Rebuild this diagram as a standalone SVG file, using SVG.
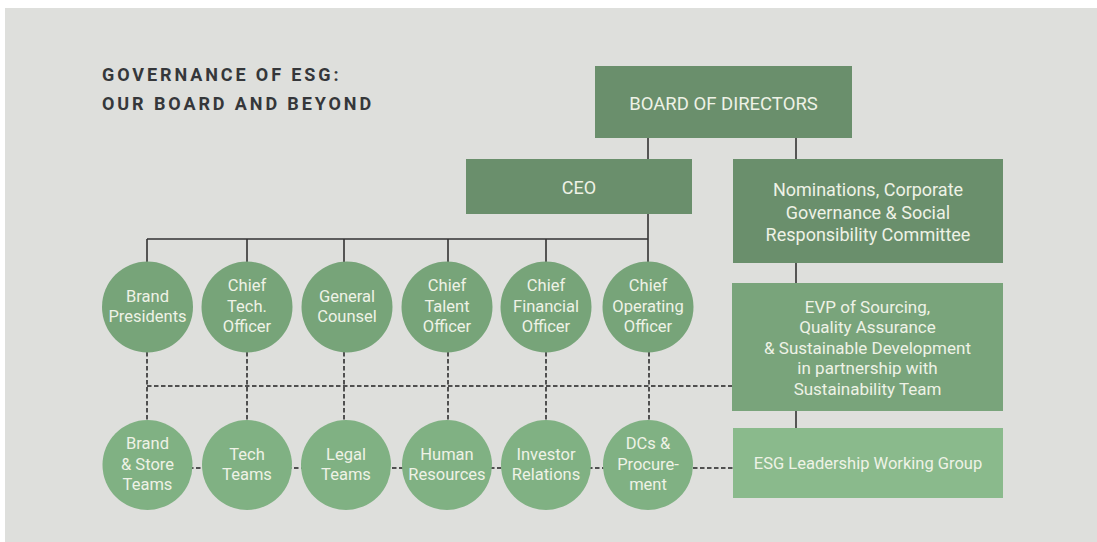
<svg xmlns="http://www.w3.org/2000/svg" width="1097" height="542" viewBox="0 0 1097 542">
<style>
.t{font-family:Roboto,"Liberation Sans",sans-serif;fill:#eef2e6;text-anchor:middle}
.title{font-family:Roboto,"Liberation Sans",sans-serif;font-weight:bold;font-size:18px;letter-spacing:2.9px;fill:#35373a}
.dk{fill:#6a8f6c}
.c1{fill:#77a479}
.c2{fill:#80b183}
.solid{stroke:#333;stroke-width:1.6;fill:none}
.dash{stroke:#222;stroke-width:1.5;fill:none;stroke-dasharray:4.5 2.5}
</style>
<rect x="0" y="0" width="1097" height="542" fill="#ffffff"/>
<rect x="5" y="8" width="1092" height="534" fill="#dedfdc"/>
<g id="title">
<text class="title" x="102" y="81">GOVERNANCE OF ESG:</text>
<text class="title" x="102" y="109.5">OUR BOARD AND BEYOND</text>
</g>
<g id="connectors">
<path class="solid" d="M648 138V159M796 138V159M648 214V239M147 239H648M147 239V262M247 239V262M344 239V262M448 239V262M546 239V262M648 239V262M796 263V283M796 411V428"/>
<path class="dash" d="M147 386H732M147 352V421M247 352V421M344 352V421M448 352V421M546 352V421M649 352V421M147 468H733"/>
</g>
<g id="board">
<rect class="dk" x="595" y="66" width="257" height="72"/>
<text class="t" x="723.5" y="110" font-size="18.5">BOARD OF DIRECTORS</text>
</g>
<g id="ceo">
<rect class="dk" x="466" y="159" width="226" height="55"/>
<text class="t" x="579" y="194" font-size="18">CEO</text>
</g>
<g id="nominations">
<rect class="dk" x="733" y="159" width="270" height="104"/>
<text class="t" x="868" y="196" font-size="18">Nominations, Corporate</text>
<text class="t" x="868" y="218.5" font-size="18">Governance &amp; Social</text>
<text class="t" x="868" y="241" font-size="18">Responsibility Committee</text>
</g>
<g id="evp">
<rect fill="#79a47b" x="732" y="283" width="271" height="128"/>
<text class="t" x="867.5" y="312.5" font-size="17">EVP of Sourcing,</text>
<text class="t" x="867.5" y="333" font-size="17">Quality Assurance</text>
<text class="t" x="867.5" y="353.5" font-size="17">&amp; Sustainable Development</text>
<text class="t" x="867.5" y="374" font-size="17">in partnership with</text>
<text class="t" x="867.5" y="394.5" font-size="17">Sustainability Team</text>
</g>
<g id="esg">
<rect fill="#8aba8c" x="733" y="428" width="270" height="70"/>
<text class="t" x="868" y="469" font-size="16.5">ESG Leadership Working Group</text>
</g>
<g id="brand-presidents">
<circle class="c1" cx="147.5" cy="307" r="45.5"/>
<text class="t" x="147.5" y="302" font-size="16.5">Brand</text>
<text class="t" x="147.5" y="322" font-size="16.5">Presidents</text>
</g>
<g id="cto">
<circle class="c1" cx="247" cy="307" r="45.5"/>
<text class="t" x="247" y="291" font-size="16.5">Chief</text>
<text class="t" x="247" y="311.5" font-size="16.5">Tech.</text>
<text class="t" x="247" y="331.5" font-size="16.5">Officer</text>
</g>
<g id="general-counsel">
<circle class="c1" cx="347" cy="307" r="45.5"/>
<text class="t" x="347" y="302" font-size="16.5">General</text>
<text class="t" x="347" y="322" font-size="16.5">Counsel</text>
</g>
<g id="cto-talent">
<circle class="c1" cx="447" cy="307" r="45.5"/>
<text class="t" x="447" y="291" font-size="16.5">Chief</text>
<text class="t" x="447" y="311.5" font-size="16.5">Talent</text>
<text class="t" x="447" y="331.5" font-size="16.5">Officer</text>
</g>
<g id="cfo">
<circle class="c1" cx="546" cy="307" r="45.5"/>
<text class="t" x="546" y="291" font-size="16.5">Chief</text>
<text class="t" x="546" y="311.5" font-size="16.5">Financial</text>
<text class="t" x="546" y="331.5" font-size="16.5">Officer</text>
</g>
<g id="coo">
<circle class="c1" cx="648" cy="307" r="45.5"/>
<text class="t" x="648" y="291" font-size="16.5">Chief</text>
<text class="t" x="648" y="311.5" font-size="16.5">Operating</text>
<text class="t" x="648" y="331.5" font-size="16.5">Officer</text>
</g>
<g id="brand-store-teams">
<circle class="c2" cx="147.5" cy="465" r="45"/>
<text class="t" x="147.5" y="449" font-size="16.5">Brand</text>
<text class="t" x="147.5" y="469.5" font-size="16.5">&amp; Store</text>
<text class="t" x="147.5" y="490" font-size="16.5">Teams</text>
</g>
<g id="tech-teams">
<circle class="c2" cx="247" cy="465" r="45"/>
<text class="t" x="247" y="459.5" font-size="16.5">Tech</text>
<text class="t" x="247" y="480" font-size="16.5">Teams</text>
</g>
<g id="legal-teams">
<circle class="c2" cx="346" cy="465" r="45"/>
<text class="t" x="346" y="459.5" font-size="16.5">Legal</text>
<text class="t" x="346" y="480" font-size="16.5">Teams</text>
</g>
<g id="human-resources">
<circle class="c2" cx="447" cy="465" r="45"/>
<text class="t" x="447" y="459.5" font-size="16.5">Human</text>
<text class="t" x="447" y="480" font-size="16.5">Resources</text>
</g>
<g id="investor-relations">
<circle class="c2" cx="546" cy="465" r="45"/>
<text class="t" x="546" y="459.5" font-size="16.5">Investor</text>
<text class="t" x="546" y="480" font-size="16.5">Relations</text>
</g>
<g id="dcs-procurement">
<circle class="c2" cx="648" cy="465" r="45"/>
<text class="t" x="648" y="449" font-size="16.5">DCs &amp;</text>
<text class="t" x="648" y="469.5" font-size="16.5">Procure-</text>
<text class="t" x="648" y="490" font-size="16.5">ment</text>
</g>
</svg>
